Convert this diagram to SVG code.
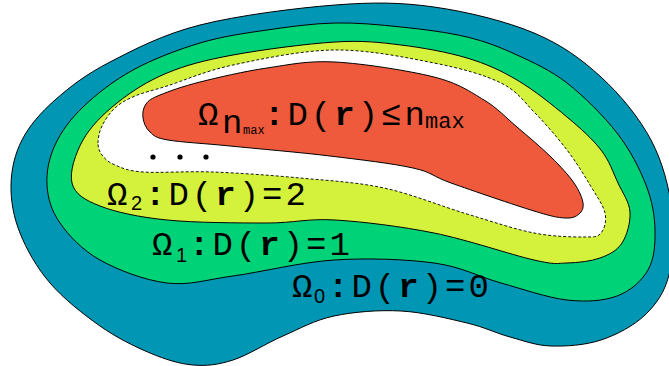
<svg xmlns="http://www.w3.org/2000/svg" width="669" height="366" viewBox="0 0 669 366">
<style>
.reg{stroke:#000;stroke-width:1;stroke-linejoin:round}
.t{font-family:"Liberation Mono","Courier New",monospace;font-size:34px;letter-spacing:3px;fill:#000}
.b{font-weight:bold}
.s{font-family:"Liberation Sans",Arial,sans-serif;font-size:20px;letter-spacing:0}
</style>
<rect width="669" height="366" fill="#fff"/>
<g id="omega0">
<path class="reg" fill="#0096b4" d="M 11,185 C 11.3,169.5 14.7,154.2 22,140 S 40.3,113 55,100 S 85.8,74.5 110,62 S 162.5,34.5 200,25 S 296,8 335,5 S 400.8,2.3 434,7 S 506.2,21.3 534,33 S 581.5,59.2 601,77 S 639.2,117.8 651,140 S 669,187.5 672,210 S 673.5,257.5 669,275 S 656.3,304.2 645,315 S 616.7,334.8 601,340 S 566.2,346.5 551,346 S 524,340.8 510,337 S 485.2,327.3 467,323 S 423.2,312.2 401,311 S 353.7,311.8 334,316 S 299.8,328.7 283,336 S 248,355.2 233,360 S 206.8,366.2 193,365 S 165.5,359.5 150,353 S 116.7,337.7 100,326 S 63.3,298.5 50,283 S 26.5,249.3 20,233 S 10.7,200.5 11,185 Z"/>
</g>
<g id="omega1">
<path class="reg" fill="#00d278" d="M 47,185 C 46.2,172 49,158 55,145 S 70,119.5 83,107 S 113.5,80.7 133,70 S 177.7,49.7 200,43 S 244.5,33.3 267,30 S 312.7,23.5 335,23 S 379,24.7 401,27 S 447.7,32.3 467,37 S 500.3,47.3 517,55 S 550.3,70 567,83 S 603.8,116 617,133 S 639.7,168.8 646,185 S 654.7,215.8 655,230 S 654.3,259 648,270 S 630.5,291 617,296 S 586.3,302.2 567,300 S 523.2,289.2 501,283 S 461.8,266.8 434,263 S 367.5,257.8 334,260 S 260.8,272.2 233,276 S 189.2,285.7 167,283 S 117.8,270 100,260 S 68.8,235.5 60,223 S 47.8,198 47,185 Z"/>
</g>
<g id="omega2">
<path class="reg" fill="#d4f23b" d="M 72,183 C 69.2,172 75.5,153.3 83,140 S 103,114.2 117,103 S 147.7,81 167,73 S 205,60.2 233,55 S 307,43.7 335,42 S 379,42.3 401,45 S 447.7,52.2 467,58 S 500.3,70.2 517,80 S 553,105.3 567,117 S 592.5,139 601,150 S 613.2,172.7 618,183 S 629.3,202 630,212 S 627,235.3 622,243 S 609.2,254.7 600,258 S 578,262.7 567,263 S 556.2,265 534,260 S 467.2,239.7 434,233 S 362.8,221.7 335,220 S 295,223 267,223 S 194.8,222.8 167,220 S 115.8,212.2 100,206 S 74.8,194 72,183 Z"/>
</g>
<g id="omega-mid">
<path fill="#fff" stroke="#000" stroke-width="0.9" stroke-dasharray="3,2" d="M 98,143 C 98,138.2 99.2,131.8 102,126 S 109.5,113 115,108 S 126.3,99.7 135,96 S 150.7,91.2 167,86 S 205,71 233,65 S 301.5,50.3 335,50 S 406.3,57.5 434,63 S 484.2,74.7 501,83 S 524,101.8 535,113 S 557.8,138 567,150 S 583.7,174.5 590,185 S 603.2,205 605,213 S 604.5,229 601,233 S 595.2,237 584,237 S 553.5,236.8 534,233 S 492,221.5 467,214 S 411.8,194 384,188 S 328.5,180.7 300,178 S 239.2,173 213,172 S 159.3,173.2 143,172 S 121.8,167.8 115,165 S 104.8,158.7 102,155 S 98,147.8 98,143 Z"/>
<circle cx="153" cy="157" r="2.6"/>
<circle cx="180" cy="157" r="2.6"/>
<circle cx="206" cy="157" r="2.6"/>
</g>
<g id="omega-nmax">
<path class="reg" fill="#ef5a3d" d="M 143,118 C 142.3,113.3 143.2,107.8 146,104 S 151,98.7 160,95 S 182.2,86.5 200,82 S 244.5,71.3 267,68 S 307.2,60.5 335,62 S 409.2,70.7 434,77 S 470.2,91.7 484,100 S 505.8,117.5 517,127 S 541.5,147.7 551,157 S 568.7,175.3 574,183 S 582.2,197.8 583,203 S 582,211.5 579,214 S 572.5,218.5 565,218 S 553,216.8 534,211 S 471.2,190.2 451,183 S 433.2,172.5 413,168 S 360.5,159.7 330,156 S 257,148.7 230,146 S 181.3,142.3 168,140 S 154.2,135.7 150,132 S 143.7,122.7 143,118 Z"/>
</g>
<g id="labels">
<text class="t" y="125"><tspan x="198">Ω</tspan><tspan x="222" y="133" letter-spacing="0">n</tspan><tspan x="243" y="134" font-size="12" letter-spacing="0">max</tspan><tspan x="264" y="125" class="b">:</tspan><tspan>D(</tspan><tspan class="b">r</tspan><tspan>)≤n</tspan><tspan x="425" y="128" font-size="22" letter-spacing="0">max</tspan></text>
<text class="t" y="205"><tspan x="107">Ω</tspan><tspan class="s" x="131" y="210">2</tspan><tspan class="b" x="145" y="205">:</tspan><tspan>D(</tspan><tspan class="b">r</tspan><tspan>)=2</tspan></text>
<text class="t" y="255"><tspan x="152">Ω</tspan><tspan class="s" x="176" y="262">1</tspan><tspan class="b" x="189" y="255">:</tspan><tspan>D(</tspan><tspan class="b">r</tspan><tspan>)=1</tspan></text>
<text class="t" y="297"><tspan x="292">Ω</tspan><tspan class="s" x="314" y="303">0</tspan><tspan class="b" x="328" y="297">:</tspan><tspan>D(</tspan><tspan class="b">r</tspan><tspan>)=0</tspan></text>
</g>
</svg>
